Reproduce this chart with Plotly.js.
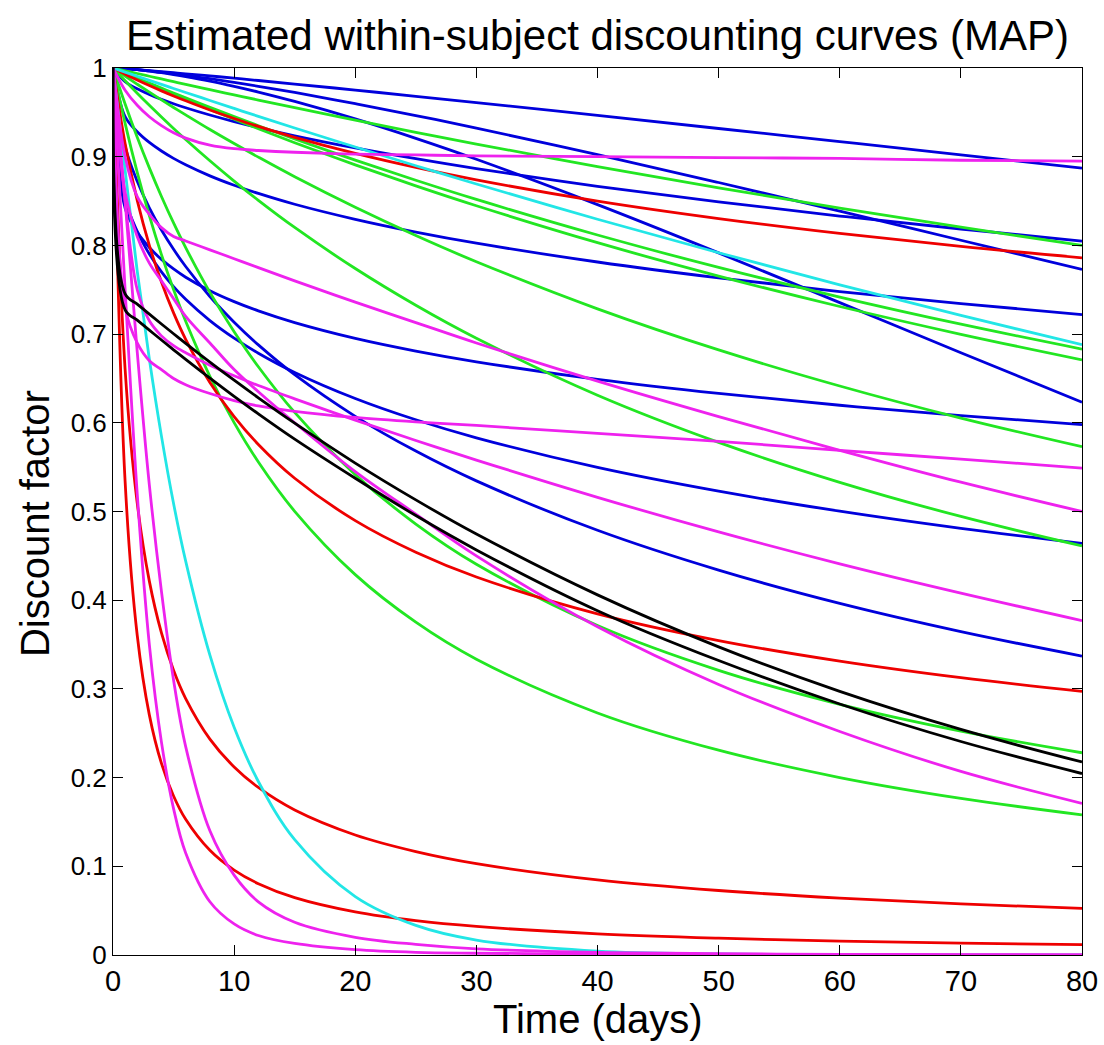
<!DOCTYPE html>
<html>
<head>
<meta charset="utf-8">
<script src="https://cdn.plot.ly/plotly-3.0.1.min.js"></script>
<style>
  html, body { margin: 0; padding: 0; background: #ffffff; }
  #chart { width: 1104px; height: 1045px; }
</style>
</head>
<body>
<div id="chart"></div>
<script>
// Time grid (days)
const days = [0, 1, 2, 3, 4, 5, 6, 8, 10, 12, 15, 20, 25, 30, 40, 50, 60, 70, 80];

// Blue curves
const blue1 = [1, .9991, .9981, .9970, .9959, .9947, .9935, .9911, .9885, .9859, .9819, .9751, .9681, .9610, .9466, .9318, .9170, .9021, .8870];
const blue2 = [1, .9845, .9766, .9702, .9647, .9597, .9552, .9470, .9396, .9329, .9236, .9099, .8977, .8865, .8666, .8491, .8331, .8185, .8049];
const blue3 = [1, .9992, .9981, .9967, .9952, .9935, .9917, .9879, .9838, .9794, .9724, .9598, .9464, .9322, .9023, .8709, .8386, .8058, .7729];
const blue4 = [1, .9451, .9282, .9161, .9064, .8981, .8909, .8784, .8678, .8586, .8464, .8294, .8150, .8025, .7813, .7634, .7480, .7344, .7220];
const blue5 = [1, .9993, .9981, .9966, .9947, .9926, .9903, .9852, .9793, .9729, .9623, .9426, .9207, .8971, .8460, .7916, .7355, .6790, .6231];
const blue6 = [1, .842, .815, .7976, .7842, .7734, .7641, .7489, .7366, .7262, .7130, .6952, .6809, .6688, .6490, .6331, .6198, .6082, .5980];
const blue7 = [1, .8534, .8159, .7902, .7701, .7535, .7392, .7152, .6954, .6785, .6568, .6274, .6034, .5831, .5497, .5229, .5004, .4810, .4640];
const blue8 = [1, .9117, .8723, .8423, .8173, .7956, .7762, .7424, .7134, .6878, .6542, .6073, .5681, .5345, .4788, .4339, .3964, .3646, .3370];

// Green curves
const green1 = [1, .9969, .9938, .9907, .9877, .9846, .9816, .9756, .9697, .9639, .9552, .9412, .9275, .9143, .8889, .8649, .8421, .8205, .8000];
const green2 = [1, .9942, .9885, .9829, .9773, .9718, .9664, .9557, .9452, .9349, .9200, .8961, .8734, .8518, .8117, .7752, .7418, .7112, .6831];
const green3 = [1, .9939, .9879, .9820, .9761, .9702, .9645, .9532, .9422, .9315, .9158, .8908, .8671, .8447, .8031, .7654, .7311, .6998, .6710];
const green4 = [1, .9908, .9817, .9728, .9641, .9555, .9471, .9306, .9148, .8995, .8774, .8430, .8111, .7816, .7285, .6822, .6415, .6053, .5730];
const green5 = [1, .9856, .9716, .9580, .9448, .9319, .9194, .8954, .8725, .8508, .8202, .7739, .7325, .6953, .6311, .5779, .5329, .4944, .4611];
const green6 = [1, .9594, .9219, .8874, .8552, .8253, .7975, .7470, .7027, .6632, .6117, .5416, .4859, .4406, .3714, .3209, .2826, .2524, .2280];
const green7 = [1, .9375, .8824, .8335, .7896, .7502, .7145, .6524, .6002, .5558, .5002, .4288, .3752, .3335, .2729, .2309, .2001, .1766, .1580];

// Red curves
const red1 = [1, .9931, .9865, .9802, .9742, .9685, .9630, .9526, .9431, .9341, .9218, .9037, .8879, .8739, .8500, .8303, .8135, .7988, .7860];
const red2 = [1, .9149, .8508, .8001, .7587, .7239, .6941, .6455, .6070, .5756, .5375, .4897, .4541, .4262, .3846, .3545, .3313, .3126, .2972];
const red3 = [1, .6604, .5094, .4215, .3631, .3210, .2891, .2434, .2120, .1889, .1635, .1353, .1166, .1030, .0847, .0727, .0641, .0576, .0525];
const red4 = [1, .5339, .3605, .2707, .2160, .1793, .1530, .1180, .0957, .0804, .0647, .0486, .0387, .0322, .0239, .0190, .0157, .0133, .0116];

// Cyan curves
const cyan1 = [1, .9953, .9907, .9861, .9815, .9769, .9724, .9634, .9544, .9455, .9324, .9109, .8898, .8692, .8295, .7917, .7555, .7210, .6881];
const cyan2 = [1, .885, .771, .672, .585, .509, .444, .338, .2567, .1956, .1300, .0659, .0334, .0169, .0043, .0011, .0003, .0001, 0];

// Magenta curves
const magenta1 = [1, .975, .958, .945, .935, .927, .921, .913, .909, .907, .905, .903, .902, .901, .900, .899, .898, .896, .895];
const magenta2 = [1, .73, .69, .67, .66, .65, .643, .633, .625, .619, .613, .606, .601, .597, .588, .579, .569, .559, .549];
const magenta3 = [1, .90, .855, .835, .82, .81, .805, .795, .785, .775, .760, .736, .713, .690, .647, .607, .569, .533, .500];
const magenta4 = [1, .85, .75, .715, .698, .687, .679, .665, .653, .642, .627, .603, .580, .558, .516, .477, .441, .408, .377];
const magenta5 = [1, .86, .81, .78, .76, .74, .72, .69, .66, .635, .60, .545, .497, .450, .370, .305, .252, .207, .171];
const magenta6 = [1, .75, .52, .35, .24, .165, .115, .06, .035, .022, .013, .006, .003, .002, .001, 0, 0, 0, 0];
const magenta7 = [1, .85, .68, .53, .41, .31, .235, .14, .09, .06, .037, .02, .012, .007, .003, .0015, .0008, .0004, .0002];

// Black curves
const black1 = [1, .7453, .7338, .7225, .7114, .7004, .6896, .6685, .6480, .6282, .5996, .5546, .5131, .4746, .4060, .3474, .2972, .2543, .2176];
const black2 = [1, .7273, .7158, .7045, .6933, .6823, .6715, .6504, .6299, .6101, .5816, .5375, .4954, .4567, .3882, .3320, .2830, .2407, .2046];

// Tick labels
const xTicks = [0, 10, 20, 30, 40, 50, 60, 70, 80];
const yTicks = [0, .1, .2, .3, .4, .5, .6, .7, .8, .9, 1];
const yTickText = ['0', '0.1', '0.2', '0.3', '0.4', '0.5', '0.6', '0.7', '0.8', '0.9', '1'];

const BLUE = '#0000dc', GREEN = '#22e622', RED = '#ee0000', CYAN = '#22e6e6', MAGENTA = '#ee22ee', BLACK = '#000000';

const series = [
  [blue1, BLUE], [blue2, BLUE], [blue3, BLUE], [blue4, BLUE], [blue5, BLUE], [blue6, BLUE], [blue7, BLUE], [blue8, BLUE],
  [green1, GREEN], [green2, GREEN], [green3, GREEN], [green4, GREEN], [green5, GREEN], [green6, GREEN], [green7, GREEN],
  [red1, RED], [red2, RED], [red3, RED], [red4, RED],
  [cyan1, CYAN], [cyan2, CYAN],
  [magenta1, MAGENTA], [magenta2, MAGENTA], [magenta3, MAGENTA], [magenta4, MAGENTA], [magenta5, MAGENTA], [magenta6, MAGENTA], [magenta7, MAGENTA],
  [black1, BLACK], [black2, BLACK]
];

const traces = series.map(([vals, color]) => ({
  x: days, y: vals, type: 'scatter', mode: 'lines',
  line: { color: color, width: 2.8, shape: 'spline', smoothing: 1 },
  hoverinfo: 'skip', showlegend: false
}));

const FONT = 'Liberation Sans, Arial, Helvetica, sans-serif';
const axisCommon = {
  showline: true, linecolor: '#000', linewidth: 1, mirror: 'ticks',
  ticks: 'inside', ticklen: 10, tickwidth: 1, tickcolor: '#000',
  showgrid: false, zeroline: false
};

const layout = {
  width: 1104, height: 1045,
  margin: { l: 113, r: 22, t: 68, b: 90 },
  paper_bgcolor: '#fff', plot_bgcolor: '#fff',
  title: { text: 'Estimated within-subject discounting curves (MAP)', font: { family: FONT, size: 42, color: '#000' },
           xref: 'paper', x: 0.5, xanchor: 'center', yref: 'container', y: 0.966, yanchor: 'middle' },
  xaxis: Object.assign({}, axisCommon, {
    range: [0, 80], tickmode: 'array', tickvals: xTicks,
    tickfont: { family: FONT, size: 29, color: '#000' }
  }),
  yaxis: Object.assign({}, axisCommon, {
    range: [0, 1], tickmode: 'array', tickvals: yTicks, ticktext: yTickText,
    tickfont: { family: FONT, size: 26, color: '#000' }
  }),
  annotations: [
    { text: 'Time (days)', xref: 'paper', yref: 'paper', x: 0.5, y: -0.072, xanchor: 'center', yanchor: 'middle',
      showarrow: false, font: { family: FONT, size: 40, color: '#000' } },
    { text: 'Discount factor', xref: 'paper', yref: 'paper', x: -0.0805, y: 0.487, xanchor: 'center', yanchor: 'middle',
      textangle: -90, showarrow: false, font: { family: FONT, size: 40, color: '#000' } }
  ]
};

Plotly.newPlot('chart', traces, layout, { displayModeBar: false, staticPlot: true });
</script>
</body>
</html>
